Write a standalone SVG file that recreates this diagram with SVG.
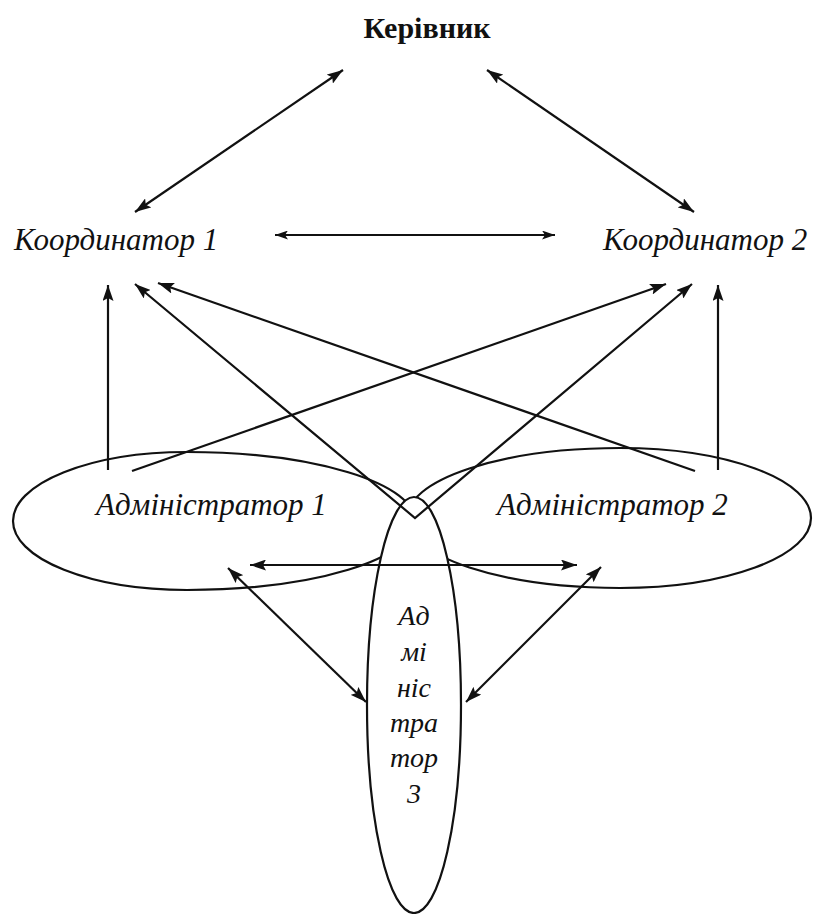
<svg xmlns="http://www.w3.org/2000/svg" width="813" height="914" viewBox="0 0 813 914">
<style>
.t{font-family:"Liberation Serif","Times New Roman",serif;fill:#111;}
.it{font-style:italic;font-size:31px;}
.a3{font-style:italic;font-size:28px;text-anchor:middle;}
.shape{fill:#fff;stroke:#111;stroke-width:2.2;}
.c{fill:none;stroke:#111;stroke-width:2.2;}
.c2{fill:none;stroke:#111;stroke-width:1.8;}
.ah{marker-start:url(#arr);marker-end:url(#arr);}
.ae{marker-end:url(#arr);}
.as{marker-start:url(#arr);}
</style>
<defs>
<marker id="arr" viewBox="0 0 16 11" refX="16" refY="5.5" markerWidth="16" markerHeight="11" markerUnits="userSpaceOnUse" orient="auto-start-reverse">
<path d="M0,0 L16,5.5 L0,11 L3,5.5 z" fill="#111"/>
</marker>
<marker id="arrs" viewBox="0 0 13 9" refX="13" refY="4.5" markerWidth="13" markerHeight="9" markerUnits="userSpaceOnUse" orient="auto-start-reverse">
<path d="M0,0 L13,4.5 L0,9 L3,4.5 z" fill="#111"/>
</marker>
</defs>
<rect width="813" height="914" fill="#fff"/>
<g id="kerivnyk"><text class="t" x="427" y="38" text-anchor="middle" font-size="30" font-weight="bold">Керівник</text></g>
<g id="koord1"><text class="t it" x="14" y="250">Координатор 1</text></g>
<g id="koord2"><text class="t it" x="603" y="250">Координатор 2</text></g>
<g id="admin1"><path class="shape" d="M13 521 A174 69 0 0 1 187 452 A228 69 0 0 1 415 521 A228 69 0 0 1 187 590 A174 69 0 0 1 13 521 Z"/><text class="t it" x="96" y="515">Адміністратор 1</text></g>
<g id="admin2"><path class="shape" d="M407 518 A213 70 0 0 1 620 448 A191 70 0 0 1 811 518 A191 70 0 0 1 620 588 A213 70 0 0 1 407 518 Z"/><text class="t it" x="497" y="515">Адміністратор 2</text></g>
<g id="admin3"><ellipse class="shape" cx="414" cy="705" rx="47" ry="208"/>
<text class="t a3"><tspan x="414" y="625">Ад</tspan><tspan x="414" y="661">мі</tspan><tspan x="414" y="697">ніс</tspan><tspan x="414" y="732">тра</tspan><tspan x="414" y="767">тор</tspan><tspan x="414" y="803">3</tspan></text></g>
<g id="connectors">
<line class="c ah" x1="343" y1="70" x2="135" y2="212"/>
<line class="c ah" x1="487" y1="70" x2="694" y2="212"/>
<line class="c2" x1="275" y1="235" x2="555" y2="235" marker-start="url(#arrs)" marker-end="url(#arrs)"/>
<line class="c ae" x1="108" y1="470" x2="108" y2="285"/>
<line class="c ae" x1="718" y1="470" x2="718" y2="285"/>
<line class="c as" x1="158" y1="283" x2="695" y2="471"/>
<line class="c ae" x1="132" y1="471" x2="666" y2="284"/>
<polyline class="c ah" points="135,284 415,518 692,284"/>
<line class="c ah" x1="250" y1="565" x2="577" y2="565"/>
<line class="c ah" x1="228" y1="568" x2="366" y2="702"/>
<line class="c ah" x1="601" y1="567" x2="466" y2="702"/>
</g>
</svg>
